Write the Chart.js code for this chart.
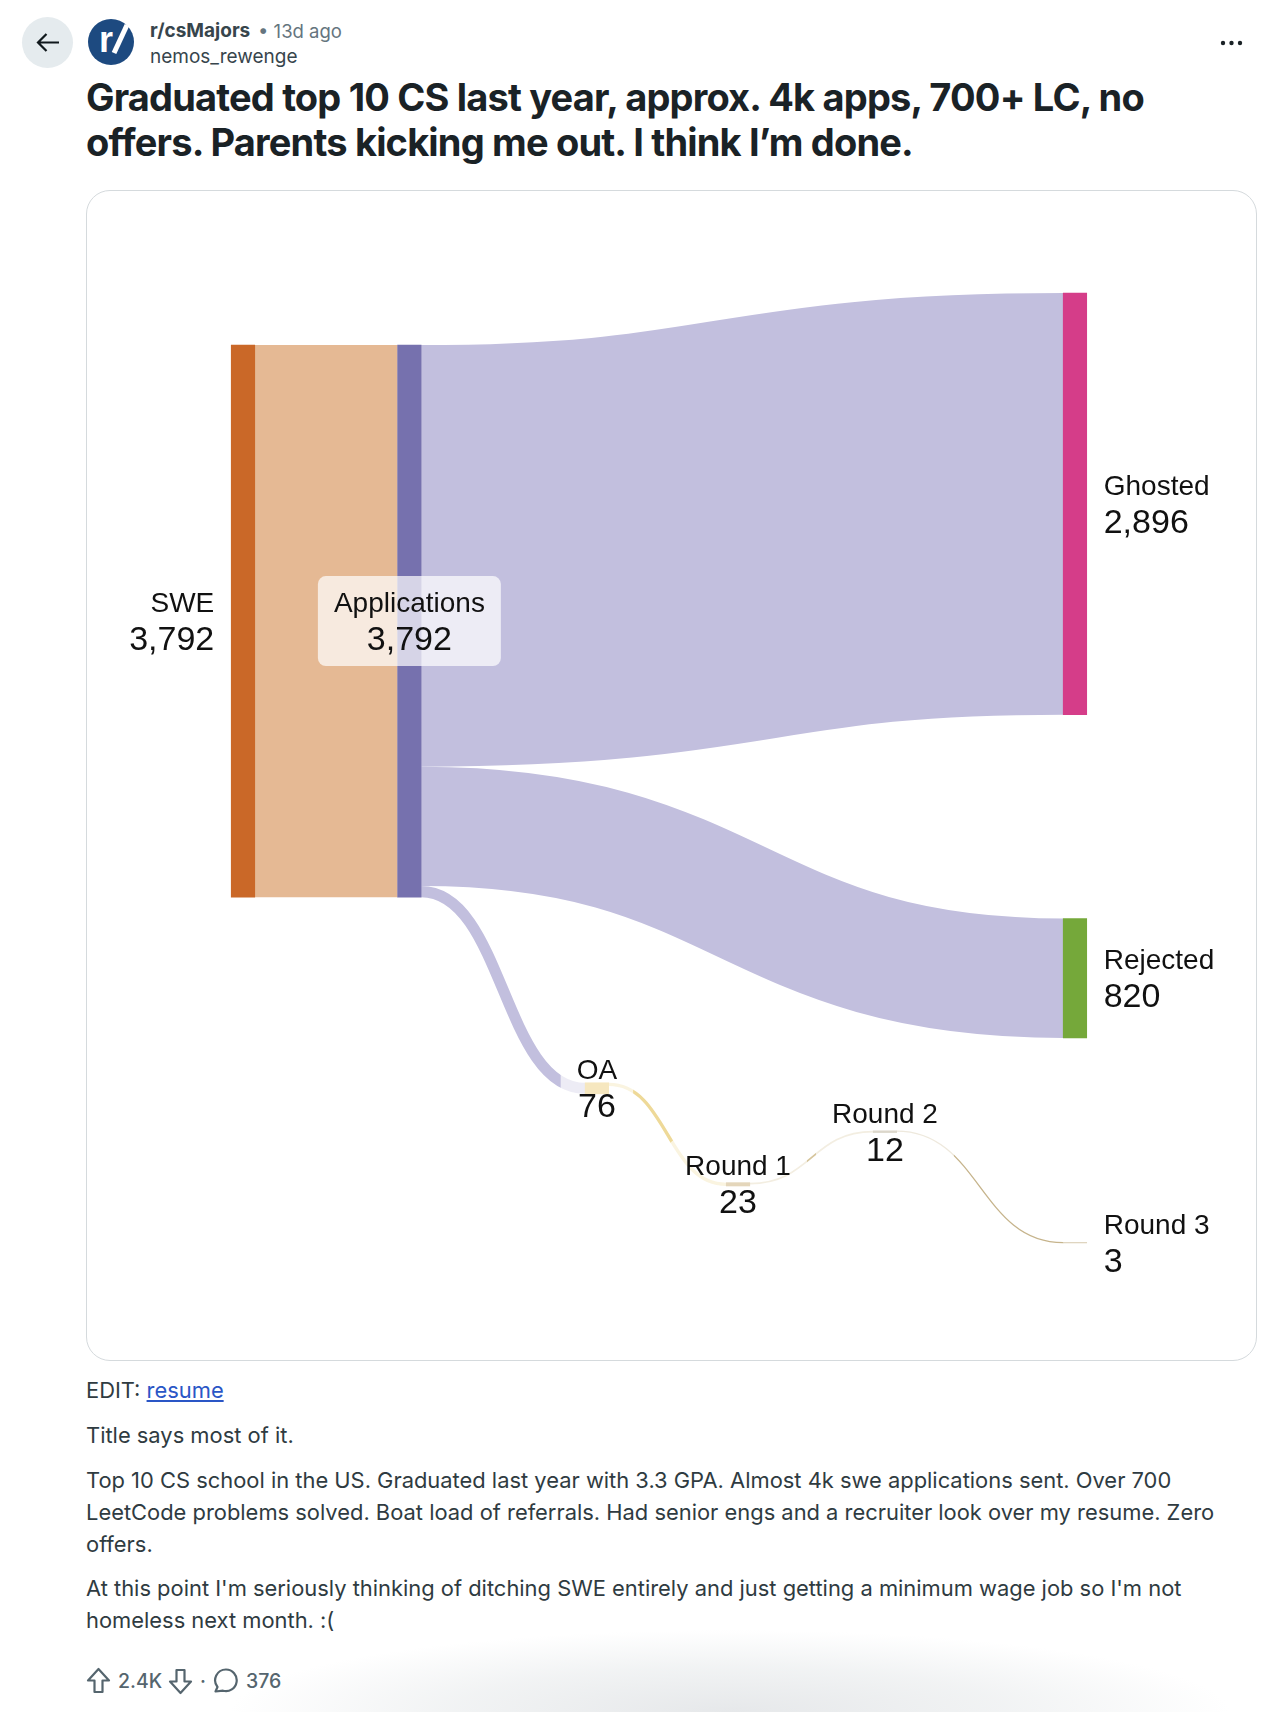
<!DOCTYPE html>
<html>
<head>
<meta charset="utf-8">
<title>Graduated top 10 CS last year</title>
<script src="https://cdn.jsdelivr.net/npm/chart.js@4/dist/chart.umd.js"></script>
<style>
  html, body { margin: 0; padding: 0; background: #fff; }
  body { position: relative; width: 1272px; height: 1712px; overflow: hidden; font-family: Inter, "Noto Sans", sans-serif; }
  .abs { position: absolute; white-space: nowrap; }
  .title { left: 86px; font-size: 38px; font-weight: 700; color: #1a2226; letter-spacing: -0.82px; line-height: 44px; }
  .line { left: 86px; font-size: 21.9px; color: #2f3b41; line-height: 32px; }
  .line a { color: #2a56c6; text-decoration: underline; }
  .meta { font-size: 19px; line-height: 24px; }
  .count { font-size: 19.5px; font-weight: 500; color: #55656e; line-height: 24px; }
  #card { position: absolute; left: 86px; top: 190px; width: 1171px; height: 1171px; }
  #frame { position: absolute; left: 86px; top: 190px; width: 1169px; height: 1169px; border: 1px solid #d5dadd; border-radius: 24px; }
  #fade { position: absolute; left: 230px; top: 1630px; width: 1000px; height: 82px; background: radial-gradient(ellipse 50% 100% at 50% 100%, rgba(230,232,234,1) 0%, rgba(238,240,241,0.8) 55%, rgba(255,255,255,0) 100%); }
</style>
</head>
<body>
  <div class="abs" style="left:22px;top:17px;width:51px;height:51px;border-radius:50%;background:#e5ebee"></div>
  <svg class="abs" style="left:32px;top:27px" width="31" height="31" viewBox="0 0 31 31" fill="none" stroke="#10181c" stroke-width="2.2"><path d="M27 15.500H6.500M14.500 7l-8.500 8.500 8.500 8.500"/></svg>
  <div class="abs" style="left:88px;top:19px;width:46px;height:46px;border-radius:50%;background:#1d4a80"></div>
  <div class="abs" style="left:99px;top:18px;color:#fff;font:700 36px/44px 'Liberation Sans'">r</div>
  <svg class="abs" style="left:88px;top:19px" width="46" height="46" fill="none" stroke="#fff" stroke-width="5"><path d="M39 6L26 34"/></svg>
  <div class="abs meta" style="left:150px;top:19px;font-weight:700;color:#37454c">r/csMajors</div>
  <div class="abs meta" style="left:258px;top:19px;font-size:18.5px;color:#65757e">• 13d ago</div>
  <div class="abs meta" style="left:150px;top:45px;color:#37454c">nemos_rewenge</div>
  <svg class="abs" style="left:1220px;top:39px" width="24" height="8" fill="#1a2226"><circle cx="3" cy="4" r="2.2"/><circle cx="11.500" cy="4" r="2.2"/><circle cx="20" cy="4" r="2.2"/></svg>

  <div class="abs title" style="top:75px">Graduated top 10 CS last year, approx. 4k apps, 700+ LC, no</div>
  <div class="abs title" style="top:120px">offers. Parents kicking me out. I think I’m done.</div>

  <div id="frame"></div>
  <div id="card"><canvas id="sankey" width="1171" height="1171"></canvas></div>

  <div class="abs line" style="top:1374px">EDIT: <a href="#">resume</a></div>
  <div class="abs line" style="top:1419px">Title says most of it.</div>
  <div class="abs line" style="top:1464px">Top 10 CS school in the US. Graduated last year with 3.3 GPA. Almost 4k swe applications sent. Over 700</div>
  <div class="abs line" style="top:1496px">LeetCode problems solved. Boat load of referrals. Had senior engs and a recruiter look over my resume. Zero</div>
  <div class="abs line" style="top:1528px">offers.</div>
  <div class="abs line" style="top:1572px">At this point I'm seriously thinking of ditching SWE entirely and just getting a minimum wage job so I'm not</div>
  <div class="abs line" style="top:1604px">homeless next month. :(</div>

  <div id="fade"></div>
  <svg class="abs" style="left:86px;top:1667px" width="26" height="28" viewBox="0 0 26 28" fill="none" stroke="#55656e" stroke-width="2.2" stroke-linejoin="round"><path d="M12.500 2L2 13.500h6.500V25h8V13.500H23z"/></svg>
  <div class="abs count" style="left:118px;top:1669px">2.4K</div>
  <svg class="abs" style="left:168px;top:1667px" width="26" height="28" viewBox="0 0 26 28" fill="none" stroke="#55656e" stroke-width="2.2" stroke-linejoin="round"><path d="M12.500 26L2 14.500h6.500V3h8v11.500H23z"/></svg>
  <div class="abs count" style="left:200px;top:1669px">·</div>
  <svg class="abs" style="left:213px;top:1667px" width="26" height="27" viewBox="0 0 26 27" fill="none" stroke="#55656e" stroke-width="2.2" stroke-linejoin="round"><path d="M13 2.500a10.800 10.800 0 1 1-3 21.200L2.500 24.500l2-4.500A10.800 10.800 0 0 1 13 2.500z"/></svg>
  <div class="abs count" style="left:246px;top:1669px">376</div>

<script>
// nodes of the flow diagram
const nodeNames = ['SWE', 'Applications', 'Ghosted', 'Rejected', 'OA', 'Round 1', 'Round 2', 'Round 3'];
const nodeValues = [3792, 3792, 2896, 820, 76, 23, 12, 3];
const nodeStages = [0, 1, 5, 5, 2.127, 2.975, 3.858, 5];
const nodeTops = [0, 0, -357, 3939, 5067, 5753, 5397, 6164];
const nodeColors = ['#ca6828', '#7671ae', '#d53d89', '#75a83a', '#e1af2a', '#a6761d', '#8a7a50', '#d9cdb4'];
const labelPlaces = ['left', 'box', 'right', 'right', 'box', 'box', 'box', 'right'];

// flows between the nodes, by node index
const linkFrom = [0, 1, 1, 1, 4, 5, 6];
const linkTo = [1, 2, 3, 4, 5, 6, 7];
const linkValues = [3792, 2896, 820, 76, 23, 12, 3];
const linkColors = ['#e5b994', '#c2bfde', '#c2bfde', '#c2bfde', '#eed998', '#d6c59c', '#c6b48c'];

const sankeyLinks = {
  id: 'sankeyLinks',
  beforeDatasetsDraw(chart) {
    const { ctx, scales: { y } } = chart;
    const bars = chart.getDatasetMeta(0).data;
    const usedOut = nodeValues.map(() => 0);
    const usedIn = nodeValues.map(() => 0);
    linkValues.forEach((value, i) => {
      const s = linkFrom[i];
      const t = linkTo[i];
      const x0 = bars[s].x + bars[s].width / 2;
      const x1 = bars[t].x - bars[t].width / 2;
      const mid = (x0 + x1) / 2;
      const a = y.getPixelForValue(nodeTops[s] + usedOut[s] + value / 2);
      const b = y.getPixelForValue(nodeTops[t] + usedIn[t] + value / 2);
      const w = Math.abs(y.getPixelForValue(value) - y.getPixelForValue(0));
      usedOut[s] += value;
      usedIn[t] += value;
      // flows are stroked, so the band keeps its width through the bends
      ctx.save();
      ctx.beginPath();
      ctx.moveTo(x0, a);
      ctx.bezierCurveTo(mid, a, mid, b, x1, b);
      ctx.strokeStyle = linkColors[i];
      ctx.lineWidth = Math.max(w, 1.3);
      ctx.stroke();
      ctx.restore();
    });
  },
  afterDatasetsDraw(chart) {
    const { ctx, scales: { y } } = chart;
    const bars = chart.getDatasetMeta(0).data;
    nodeNames.forEach((name, i) => {
      const bar = bars[i];
      const cy = y.getPixelForValue(nodeTops[i] + nodeValues[i] / 2);
      const value = nodeValues[i].toLocaleString('en-US');
      const place = labelPlaces[i];
      ctx.save();
      ctx.textBaseline = 'alphabetic';
      let tx = bar.x;
      ctx.textAlign = 'center';
      if (place === 'left') {
        tx = bar.x - bar.width / 2 - 17;
        ctx.textAlign = 'right';
      } else if (place === 'right') {
        tx = bar.x + bar.width / 2 + 17;
        ctx.textAlign = 'left';
      } else {
        ctx.font = '28px "Liberation Sans"';
        const nameW = ctx.measureText(name).width;
        ctx.font = '34px "Liberation Sans"';
        const w = Math.max(nameW, ctx.measureText(value).width) + 32;
        ctx.fillStyle = 'rgba(255,255,255,0.7)';
        ctx.beginPath();
        ctx.roundRect(bar.x - w / 2, cy - 45, w, 90, 8);
        ctx.fill();
      }
      ctx.fillStyle = '#111';
      ctx.font = '28px "Liberation Sans"';
      ctx.fillText(name, tx, cy - 9);
      ctx.font = '34px "Liberation Sans"';
      ctx.fillText(value, tx, cy + 29);
      ctx.restore();
    });
  }
};

new Chart(document.getElementById('sankey'), {
  type: 'bar',
  data: {
    datasets: [{
      label: 'Nodes',
      data: nodeNames.map((name, i) => ({ x: nodeStages[i], y: [nodeTops[i], nodeTops[i] + nodeValues[i]] })),
      backgroundColor: nodeColors,
      borderWidth: 0,
      barThickness: 23.5,
      grouped: false
    }]
  },
  plugins: [sankeyLinks],
  options: {
    responsive: false,
    animation: false,
    layout: { padding: 0 },
    plugins: {
      legend: { display: false },
      title: { display: false },
      tooltip: { enabled: false }
    },
    scales: {
      x: { type: 'linear', display: false, offset: false, min: -0.9435, max: 6.094 },
      y: { type: 'linear', display: false, reverse: true, min: -1065, max: 6978 }
    }
  }
});
</script>
</body>
</html>
